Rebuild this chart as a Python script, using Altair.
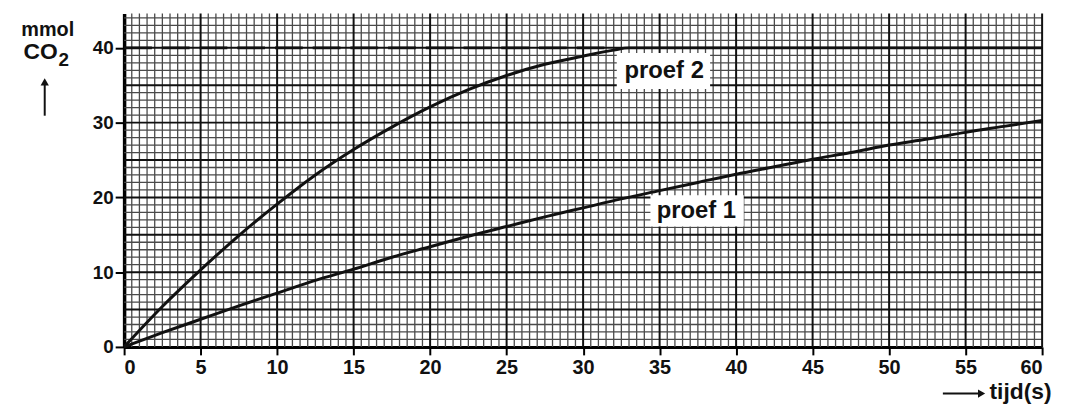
import altair as alt
import numpy as np
import pandas as pd

# ---- data ----
t_proef1 = [0, 2.5, 5, 7.5, 10, 12.5, 15, 17.5, 20, 22.5, 25, 27.5, 30, 32.5, 35, 37.5, 40, 42.5, 45, 47.5, 50, 52.5, 55, 57.5, 60]
co2_proef1 = [0, 1.9, 3.7, 5.5, 7.2, 8.9, 10.4, 12.0, 13.4, 14.8, 16.1, 17.4, 18.6, 19.8, 20.9, 22.0, 23.1, 24.1, 25.1, 26.0, 27.0, 27.8, 28.7, 29.5, 30.3]
t_proef2 = [0, 2.5, 5, 7.5, 10, 12.5, 15, 17.5, 20, 22.5, 25, 27.5, 30, 32, 33, 40, 50, 60]
co2_proef2 = [0, 5.4, 10.3, 14.9, 19.1, 23.0, 26.4, 29.4, 32.1, 34.4, 36.3, 37.8, 38.9, 39.7, 40.0, 40.0, 40.0, 40.0]
t_limit = [0, 32]
co2_limit = [40, 40]
x_ticks = list(range(0, 61, 5))
y_ticks = [0, 10, 20, 30, 40]
labels = ["proef 2", "proef 1"]
label_x = [35.3, 37.4]
label_y = [36.9, 18.2]
label_x0 = [32.2, 34.4]
label_x1 = [38.3, 40.5]
label_y0 = [34.5, 16.1]
label_y1 = [39.3, 20.3]

X_MAX, Y_MAX = 60, 44.6
FONT = "Liberation Sans"

xs = alt.Scale(domain=[0, X_MAX], nice=False, zero=False)
ys = alt.Scale(domain=[0, Y_MAX], nice=False, zero=False)

x_axis = alt.Axis(values=x_ticks, title=None, grid=False, domainWidth=3, domainColor="black",
                  tickWidth=2, tickSize=8, tickColor="black", labelFont=FONT, labelFontSize=20,
                  labelColor="#111", labelPadding=3, labelFontWeight="bold")
y_axis = alt.Axis(values=y_ticks, title=None, grid=False, domainWidth=3.5, domainColor="black",
                  tickWidth=2, tickSize=9, tickColor="black", labelFont=FONT, labelFontSize=19,
                  labelColor="#111", labelPadding=2, labelFontWeight="bold")

def X(f):
    return alt.X(f, scale=xs, axis=x_axis)

def Y(f):
    return alt.Y(f, scale=ys, axis=y_axis)

fine_x = [v for v in np.arange(0, X_MAX + 0.01, 0.5) if v % 5 != 0]
fine_y = [v for v in np.arange(0, Y_MAX, 1.0) if v % 5 != 0]
major_x = list(range(5, 61, 5))
major_y = list(range(5, 45, 5))

fine_v = alt.Chart(pd.DataFrame({"x": fine_x})).mark_rule(color="#4a4a4a", strokeWidth=1.3).encode(x=X("x:Q"))
fine_h = alt.Chart(pd.DataFrame({"y": fine_y})).mark_rule(color="#4a4a4a", strokeWidth=1.3).encode(y=Y("y:Q"))
major_v = alt.Chart(pd.DataFrame({"x": major_x})).mark_rule(color="#111", strokeWidth=2).encode(x=X("x:Q"))
major_h = alt.Chart(pd.DataFrame({"y": major_y})).mark_rule(color="#111", strokeWidth=2).encode(y=Y("y:Q"))

df1 = pd.DataFrame({"t": t_proef1, "c": co2_proef1})
df2 = pd.DataFrame({"t": t_proef2, "c": co2_proef2})
dfl = pd.DataFrame({"t": t_limit, "c": co2_limit})

limit = alt.Chart(dfl).mark_line(color="#111", strokeWidth=3, strokeDash=[28, 10]).encode(
    x=X("t:Q"), y=Y("c:Q"))
line1 = alt.Chart(df1).mark_line(color="#111", strokeWidth=3, interpolate="monotone").encode(
    x=X("t:Q"), y=Y("c:Q"))
line2 = alt.Chart(df2).mark_line(color="#111", strokeWidth=3, interpolate="monotone").encode(
    x=X("t:Q"), y=Y("c:Q"))

dflab = pd.DataFrame({"label": labels, "x": label_x, "y": label_y,
                      "x0": label_x0, "x1": label_x1, "y0": label_y0, "y1": label_y1})
boxes = alt.Chart(dflab).mark_rect(color="white").encode(
    x=X("x0:Q"), x2="x1:Q", y=Y("y0:Q"), y2="y1:Q")
texts = alt.Chart(dflab).mark_text(font=FONT, fontSize=24, fontWeight="bold", color="#111").encode(
    x=X("x:Q"), y=Y("y:Q"), text="label:N")

# ---- annotations outside the plot (y-axis title, x-axis title) ----
ann = pd.DataFrame({"txt": ["mmol"]})
mmol = alt.Chart(ann).mark_text(font=FONT, fontSize=20, fontWeight="bold", color="#111",
                                baseline="alphabetic").encode(
    x=alt.value(-77), y=alt.value(23), text="txt:N")
co = alt.Chart(pd.DataFrame({"txt": ["CO"]})).mark_text(font=FONT, fontSize=23, fontWeight="bold", color="#111",
                                                       baseline="alphabetic", align="right").encode(
    x=alt.value(-67), y=alt.value(46), text="txt:N")
sub2 = alt.Chart(pd.DataFrame({"txt": ["2"]})).mark_text(font=FONT, fontSize=19, fontWeight="bold", color="#111",
                                                        baseline="alphabetic", align="left").encode(
    x=alt.value(-66), y=alt.value(53), text="txt:N")
up_line = alt.Chart(ann).mark_rule(color="#111", strokeWidth=2).encode(
    x=alt.value(-80), y=alt.value(70), y2=alt.value(103))
up_head = alt.Chart(ann).mark_point(shape="triangle-up", filled=True, color="#111", size=70, opacity=1).encode(
    x=alt.value(-80), y=alt.value(69))
tijd = alt.Chart(pd.DataFrame({"txt": ["tijd(s)"]})).mark_text(font=FONT, fontSize=23, fontWeight="bold",
                                                              color="#111", baseline="alphabetic",
                                                              align="left").encode(
    x=alt.value(872), y=alt.value(388), text="txt:N")
r_line = alt.Chart(ann).mark_rule(color="#111", strokeWidth=2).encode(
    x=alt.value(825), x2=alt.value(862), y=alt.value(383))
r_head = alt.Chart(ann).mark_point(shape="triangle-right", filled=True, color="#111", size=70, opacity=1).encode(
    x=alt.value(864), y=alt.value(383))

chart = alt.layer(
    fine_v, fine_h, major_v, major_h, limit, line2, line1, boxes, texts,
    mmol, co, sub2, up_line, up_head, tijd, r_line, r_head
).properties(
    width=925, height=336,
    autosize=alt.AutoSizeParams(type="none"),
    padding={"left": 117, "top": 4, "right": 15, "bottom": 57},
    background="white",
).configure_view(stroke=None)

chart.save("out.html", embed_options={"renderer": "svg", "actions": False})
